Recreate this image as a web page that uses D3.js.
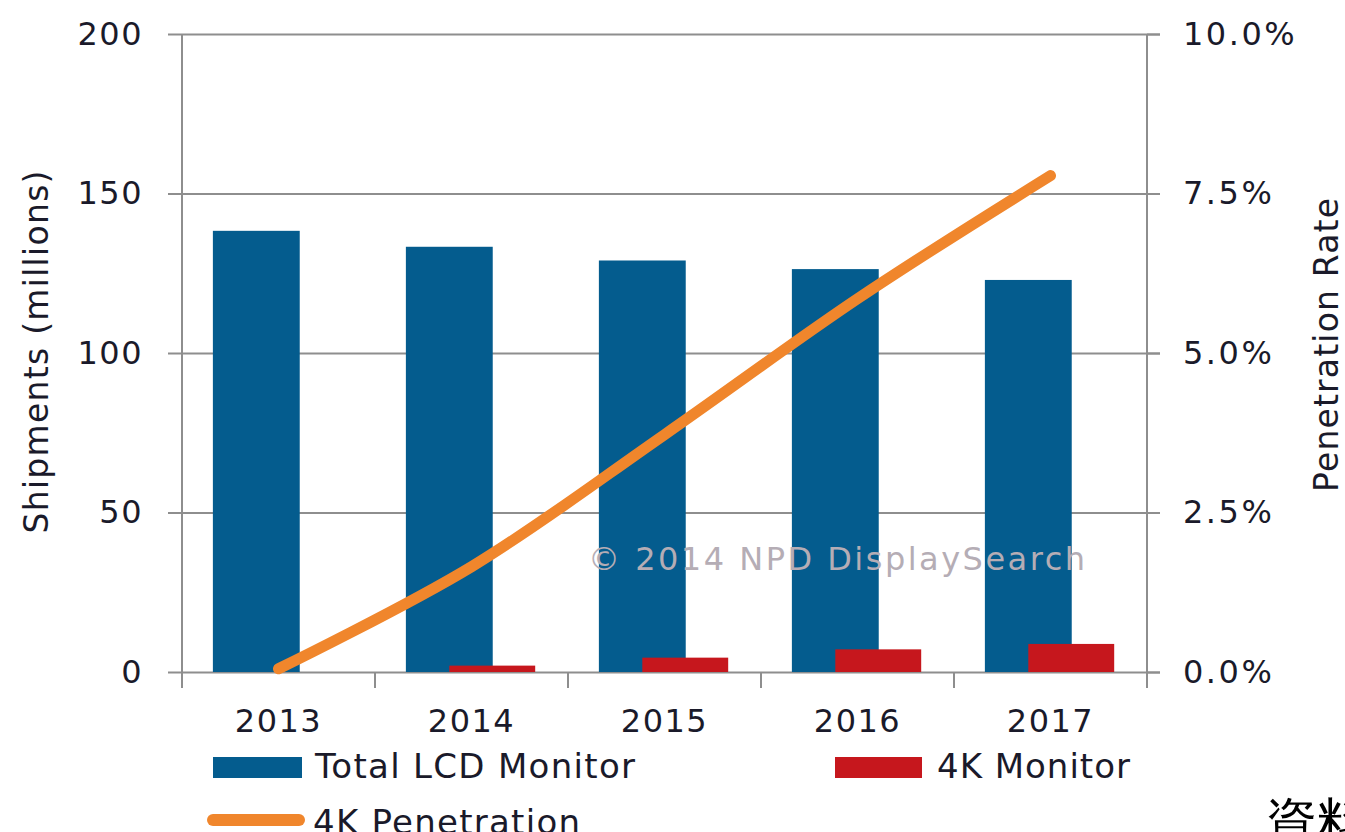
<!DOCTYPE html>
<html>
<head>
<meta charset="utf-8">
<script src="https://cdn.jsdelivr.net/npm/d3@7"></script>
<style>
  html, body { margin: 0; padding: 0; background: #fff; }
  svg { display: block; }
  text { font-family: "DejaVu Sans", Verdana, sans-serif; fill: #1a1a2a; }
</style>
</head>
<body>
<svg id="chart" width="1345" height="832"></svg>
<script>
// chart data
var years = ["2013", "2014", "2015", "2016", "2017"];
var totalLcd = [138.3, 133.3, 129.0, 126.3, 122.9];   // millions
var monitor4k = [0, 2.0, 4.5, 7.1, 8.8];               // millions
var penetration = [0.05, 1.65, 3.72, 5.85, 7.78];      // percent
var leftTicks = [0, 50, 100, 150, 200];
var rightTicks = [0, 2.5, 5, 7.5, 10];

var BLUE = "#045c8e";
var RED = "#c6171d";
var ORANGE = "#f0862c";
var GRID = "#8e8e8e";

var svg = d3.select("#chart");
// note: "top" is a reserved window property, so use plot* names
var plotLeft = 182, plotRight = 1147, plotTop = 34, plotBottom = 672;

var x = d3.scaleBand().domain(years).range([plotLeft, plotRight]).padding(0);
var y = d3.scaleLinear().domain([0, 200]).range([plotBottom, plotTop]);
var yPct = d3.scaleLinear().domain([0, 10]).range([plotBottom, plotTop]);
var bw = x.bandwidth();

// left axis + grid lines
var gLeft = svg.append("g")
  .attr("transform", "translate(" + plotLeft + ",0)")
  .call(d3.axisLeft(y).tickValues(leftTicks).tickSizeInner(-(plotRight - plotLeft)).tickSizeOuter(0).tickPadding(39));
gLeft.select(".domain").remove();
gLeft.selectAll(".tick line")
  .attr("x1", -14).attr("x2", plotRight - plotLeft + 13)
  .attr("stroke", GRID).attr("stroke-width", 2);
gLeft.selectAll(".tick text")
  .attr("font-size", 32).attr("letter-spacing", 1.5)
  .attr("font-family", "DejaVu Sans").attr("fill", "#1a1a2a");

// right axis
var gRight = svg.append("g")
  .attr("transform", "translate(" + plotRight + ",0)")
  .call(d3.axisRight(yPct).tickValues(rightTicks).tickSize(13).tickPadding(23)
    .tickFormat(function(d) { return d.toFixed(1) + "%"; }));
gRight.select(".domain").remove();
gRight.selectAll(".tick line").attr("stroke", GRID).attr("stroke-width", 2);
gRight.selectAll(".tick text")
  .attr("font-size", 32).attr("letter-spacing", 2.5)
  .attr("font-family", "DejaVu Sans").attr("fill", "#1a1a2a");

// vertical axis lines
svg.append("line").attr("x1", plotLeft).attr("x2", plotLeft).attr("y1", plotTop).attr("y2", plotBottom + 2)
  .attr("stroke", GRID).attr("stroke-width", 2);
svg.append("line").attr("x1", plotRight).attr("x2", plotRight).attr("y1", plotTop).attr("y2", plotBottom + 16)
  .attr("stroke", GRID).attr("stroke-width", 2);

// category boundary ticks
var bounds = years.map(function(d) { return x(d); }).concat([x.range()[1]]);
svg.append("g").selectAll("line").data(bounds).enter().append("line")
  .attr("x1", function(d) { return d; }).attr("x2", function(d) { return d; })
  .attr("y1", plotBottom).attr("y2", plotBottom + 16)
  .attr("stroke", GRID).attr("stroke-width", 2);

// category labels
svg.append("g").selectAll("text").data(years).enter().append("text")
  .attr("x", function(d) { return x(d) + bw / 2; })
  .attr("y", 732)
  .attr("text-anchor", "middle")
  .attr("font-size", 32).attr("letter-spacing", 1.5)
  .text(function(d) { return d; });

// bars
svg.append("g").selectAll("rect").data(totalLcd).enter().append("rect")
  .attr("x", function(d, i) { return x(years[i]) + bw * 0.16; })
  .attr("y", function(d) { return y(d); })
  .attr("width", bw * 0.45)
  .attr("height", function(d) { return y(0) - y(d); })
  .attr("fill", BLUE);

svg.append("g").selectAll("rect").data(monitor4k).enter().append("rect")
  .attr("x", function(d, i) { return x(years[i]) + bw * 0.385; })
  .attr("y", function(d) { return y(d); })
  .attr("width", bw * 0.445)
  .attr("height", function(d) { return y(0) - y(d); })
  .attr("fill", RED);

// watermark sits over the bars
svg.append("text")
  .attr("x", 588).attr("y", 570)
  .attr("font-size", 32)
  .attr("textLength", 497).attr("lengthAdjust", "spacing")
  .style("fill", "#b5adb5")
  .text("\u00a9 2014  NPD  DisplaySearch");

// penetration line (smoothed like Excel)
var line = d3.line()
  .x(function(d, i) { return x(years[i]) + bw / 2; })
  .y(function(d) { return yPct(d); })
  .curve(d3.curveCatmullRom.alpha(0));
svg.append("path")
  .datum(penetration)
  .attr("d", line)
  .attr("fill", "none")
  .attr("stroke", ORANGE)
  .attr("stroke-width", 11)
  .attr("stroke-linecap", "round")
  .attr("stroke-linejoin", "round");

// axis titles
svg.append("text")
  .attr("transform", "translate(48,352) rotate(-90)")
  .attr("text-anchor", "middle")
  .attr("font-size", 33)
  .attr("textLength", 363).attr("lengthAdjust", "spacing")
  .text("Shipments  (millions)");
svg.append("text")
  .attr("transform", "translate(1338,345) rotate(-90)")
  .attr("text-anchor", "middle")
  .attr("font-size", 33)
  .attr("textLength", 294).attr("lengthAdjust", "spacing")
  .text("Penetration Rate");

// legend
var legend = svg.append("g");
legend.append("rect").attr("x", 213).attr("y", 757).attr("width", 89).attr("height", 21).attr("fill", BLUE);
legend.append("text").attr("x", 315).attr("y", 778).attr("font-size", 34)
  .attr("textLength", 320).attr("lengthAdjust", "spacing").text("Total LCD Monitor");
legend.append("rect").attr("x", 835).attr("y", 757).attr("width", 87).attr("height", 21).attr("fill", RED);
legend.append("text").attr("x", 937).attr("y", 778).attr("font-size", 34)
  .attr("textLength", 193).attr("lengthAdjust", "spacing").text("4K Monitor");
legend.append("line").attr("x1", 213).attr("x2", 299).attr("y1", 820).attr("y2", 820)
  .attr("stroke", ORANGE).attr("stroke-width", 12).attr("stroke-linecap", "round");
legend.append("text").attr("x", 313).attr("y", 834).attr("font-size", 34)
  .attr("textLength", 267).attr("lengthAdjust", "spacing").text("4K Penetration");

// source note, cut off at the edge
svg.append("text")
  .attr("x", 1265).attr("y", 840)
  .attr("font-size", 52)
  .attr("font-family", "'Noto Sans CJK TC', sans-serif")
  .attr("font-weight", 300)
  .style("fill", "#000")
  .text("資料");
</script>
</body>
</html>
